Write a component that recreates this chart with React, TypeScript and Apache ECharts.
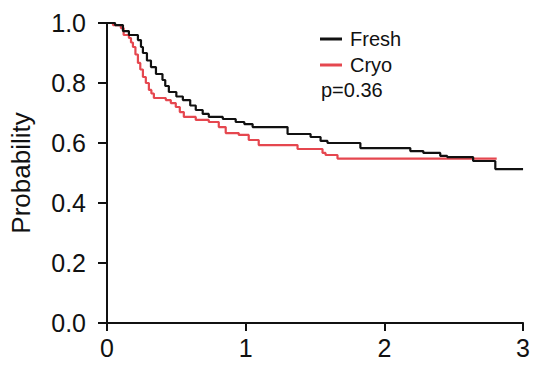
import React, { useEffect, useRef } from "react";
import * as echarts from "echarts";

const seriesNames = ["Fresh", "Cryo"];
const pValueText = "p=0.36";
const yTicks = [0, 0.2, 0.4, 0.6, 0.8, 1.0];
const xTicks = [0, 1, 2, 3];

// Kaplan-Meier steps: [time, survival probability]
const freshCurve: [number, number][] = [
  [0, 1.0], [0.058, 0.993], [0.115, 0.973], [0.158, 0.96], [0.223, 0.943],
  [0.245, 0.92], [0.259, 0.9], [0.288, 0.875], [0.317, 0.853], [0.353, 0.83],
  [0.4, 0.81], [0.42, 0.79], [0.446, 0.77], [0.5, 0.755], [0.547, 0.743],
  [0.6, 0.725], [0.64, 0.71], [0.69, 0.697], [0.734, 0.687], [0.835, 0.68],
  [0.928, 0.67], [0.99, 0.663], [1.05, 0.653], [1.302, 0.63], [1.468, 0.62],
  [1.54, 0.607], [1.59, 0.6], [1.827, 0.583], [2.187, 0.573], [2.281, 0.567],
  [2.403, 0.557], [2.453, 0.553], [2.64, 0.54], [2.8, 0.513], [3.0, 0.513],
];

const cryoCurve: [number, number][] = [
  [0, 1.0], [0.043, 0.993], [0.1, 0.983], [0.12, 0.96], [0.158, 0.95],
  [0.173, 0.935], [0.187, 0.92], [0.205, 0.895], [0.223, 0.867], [0.24, 0.845],
  [0.259, 0.82], [0.28, 0.8], [0.302, 0.777], [0.32, 0.765], [0.338, 0.75],
  [0.424, 0.743], [0.46, 0.733], [0.496, 0.72], [0.525, 0.703], [0.554, 0.687],
  [0.64, 0.677], [0.734, 0.67], [0.806, 0.653], [0.856, 0.633], [0.95, 0.627],
  [1.022, 0.61], [1.094, 0.593], [1.374, 0.58], [1.554, 0.567], [1.576, 0.56],
  [1.662, 0.548], [2.81, 0.548],
];

const seriesData = [freshCurve, cryoCurve];
const seriesColors = ["#111111", "#e5474f"];

export default function App() {
  const ref = useRef<HTMLDivElement>(null);

  useEffect(() => {
    if (!ref.current) return;
    const chart = echarts.init(ref.current, null, { renderer: "svg" });
    const font = "'Liberation Sans', Arial, Helvetica, sans-serif";
    chart.setOption({
      animation: false,
      backgroundColor: "#ffffff",
      textStyle: { fontFamily: font },
      grid: { left: 106, right: 9, top: 23, bottom: 47, containLabel: false },
      legend: {
        data: seriesNames,
        orient: "vertical",
        left: 315,
        top: 24,
        icon: "rect",
        itemWidth: 22,
        itemHeight: 3,
        itemGap: 6,
        textStyle: { fontSize: 20, color: "#111", fontFamily: font, padding: [0, 0, 0, 3] },
        selectedMode: false,
      },
      graphic: [
        {
          type: "text",
          left: 321,
          top: 80,
          style: { text: pValueText, font: `20px ${font}`, fill: "#111" },
        },
      ],
      xAxis: {
        type: "value",
        min: xTicks[0],
        max: xTicks[xTicks.length - 1],
        interval: 1,
        axisLine: { show: true, onZero: false, lineStyle: { color: "#111", width: 2 } },
        axisTick: { show: true, inside: false, length: 8, lineStyle: { color: "#111", width: 2 } },
        axisLabel: { fontSize: 25, color: "#111", margin: 12, fontFamily: font },
        splitLine: { show: false },
      },
      yAxis: {
        type: "value",
        min: yTicks[0],
        max: yTicks[yTicks.length - 1],
        interval: 0.2,
        name: "Probability",
        nameLocation: "middle",
        nameGap: 73,
        nameTextStyle: { fontSize: 26, color: "#111", fontFamily: font },
        axisLine: { show: true, lineStyle: { color: "#111", width: 2 } },
        axisTick: { show: true, inside: false, length: 9, lineStyle: { color: "#111", width: 2 } },
        axisLabel: {
          fontSize: 25,
          color: "#111",
          margin: 21,
          fontFamily: font,
          formatter: (v: number) => v.toFixed(1),
        },
        splitLine: { show: false },
      },
      series: seriesNames.map((name, i) => ({
        name,
        type: "line",
        step: "end",
        data: seriesData[i],
        showSymbol: false,
        symbol: "none",
        color: seriesColors[i],
        lineStyle: { color: seriesColors[i], width: 2.2 },
        z: i === 0 ? 3 : 2,
      })),
    });
    return () => chart.dispose();
  }, []);

  return (
    <div
      ref={ref}
      style={{ position: "absolute", left: 0, top: 0, width: 533, height: 370, background: "#fff" }}
    />
  );
}
